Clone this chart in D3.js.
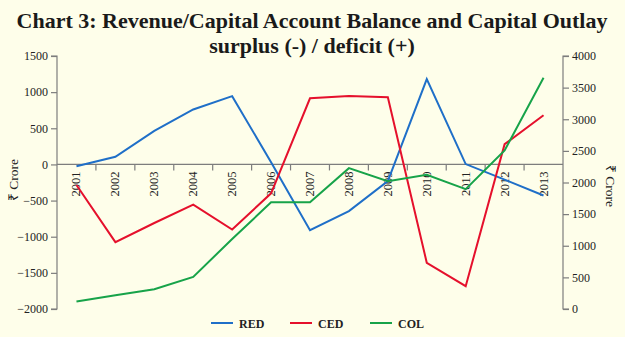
<!DOCTYPE html>
<html>
<head>
<meta charset="utf-8">
<script src="https://cdn.jsdelivr.net/npm/d3@7"></script>
<style>
  html, body { margin: 0; padding: 0; background: #fefeea; }
  svg { display: block; font-family: "Liberation Serif", "Times New Roman", serif; }
</style>
</head>
<body>
<svg id="chart" width="625" height="337"></svg>
<script>
// Fiscal years on the category axis
const years = ["2001","2002","2003","2004","2005","2006","2007","2008","2009","2010","2011","2012","2013"];

// Revenue account balance (left axis, ₹ crore)
const red = [-25, 105, 465, 760, 945, 30, -910, -645, -230, 1180, 5, -210, -430];
// Capital account balance (left axis, ₹ crore)
const ced = [-285, -1075, -810, -555, -900, -400, 915, 945, 930, -1360, -1685, 280, 680];
// Capital outlay (right axis, ₹ crore)
const col = [120, 217, 312, 508, 1106, 1687, 1687, 2227, 2020, 2122, 1895, 2508, 3655];

const leftTicks = [1500, 1000, 500, 0, -500, -1000, -1500, -2000];
const rightTicks = [4000, 3500, 3000, 2500, 2000, 1500, 1000, 500, 0];

const seriesNames = ["RED", "CED", "COL"];
const colors = { RED: "#1f6fc8", CED: "#e5102c", COL: "#17a349" };

const svg = d3.select("#chart");
const plotLeft = 57, plotRight = 563, plotTop = 56, plotBottom = 309;
const axisColor = "#7d7d7d";
const textColor = "#222";

const x = d3.scaleBand().domain(years).range([plotLeft, plotRight]).paddingInner(0).paddingOuter(0);
const yL = d3.scaleLinear().domain([-2000, 1500]).range([plotBottom, plotTop]);
const yR = d3.scaleLinear().domain([0, 4000]).range([plotBottom, plotTop]);

// Title
const title = svg.append("g").attr("font-weight", "bold").attr("fill", "#1a1a1a")
  .attr("text-anchor", "middle").attr("font-size", 22);
title.append("text").attr("x", 312).attr("y", 28)
  .text("Chart 3: Revenue/Capital Account Balance and Capital Outlay");
title.append("text").attr("x", 312).attr("y", 53)
  .text("surplus (-) / deficit (+)");

// Left axis
const gL = svg.append("g").attr("transform", `translate(${plotLeft},0)`)
  .call(d3.axisLeft(yL).tickValues(leftTicks).tickSize(6).tickPadding(3).tickFormat(d3.format("d")));
// Right axis
const gR = svg.append("g").attr("transform", `translate(${plotRight},0)`)
  .call(d3.axisRight(yR).tickValues(rightTicks).tickSize(6).tickPadding(3).tickFormat(d3.format("d")));

[gL, gR].forEach(g => {
  g.select(".domain").attr("stroke", axisColor).attr("stroke-width", 1.2);
  g.selectAll(".tick line").attr("stroke", axisColor).attr("stroke-width", 1.2);
  g.selectAll(".tick text").attr("fill", textColor).attr("font-size", 12)
    .attr("font-family", "Liberation Serif, serif");
});
gL.select(".domain").attr("d", `M-6,${plotTop}H0V${plotBottom}H-6`);
gR.select(".domain").attr("d", `M6,${plotTop}H0V${plotBottom}H6`);

// Category axis drawn along the zero line
const y0 = yL(0);
svg.append("line").attr("x1", plotLeft).attr("x2", plotRight).attr("y1", y0).attr("y2", y0)
  .attr("stroke", axisColor).attr("stroke-width", 1.2);
const boundaries = years.slice(1).map(d => x(d));
svg.append("g").selectAll("line").data(boundaries).join("line")
  .attr("x1", d => d).attr("x2", d => d).attr("y1", y0).attr("y2", y0 + 6)
  .attr("stroke", axisColor).attr("stroke-width", 1.2);
svg.append("g").selectAll("text").data(years).join("text")
  .attr("transform", d => `translate(${x(d) + x.bandwidth() / 2 + 4},${y0 + 7}) rotate(-90)`)
  .attr("text-anchor", "end").attr("font-size", 12.5).attr("fill", textColor)
  .text(d => d);

// Axis titles
svg.append("text").attr("transform", `translate(18,180) rotate(-90)`)
  .attr("text-anchor", "middle").attr("font-size", 13.5).attr("fill", textColor).text("₹ Crore");
svg.append("text").attr("transform", `translate(606,186) rotate(90)`)
  .attr("text-anchor", "middle").attr("font-size", 13.5).attr("fill", textColor).text("₹ Crore");

// Lines
const cx = d => x(d) + x.bandwidth() / 2;
const lineData = [
  { name: "RED", values: red, scale: yL },
  { name: "CED", values: ced, scale: yL },
  { name: "COL", values: col, scale: yR }
];
lineData.forEach(s => {
  const line = d3.line().x((v, i) => cx(years[i])).y(v => s.scale(v));
  svg.append("path").datum(s.values).attr("d", line)
    .attr("fill", "none").attr("stroke", colors[s.name]).attr("stroke-width", 2)
    .attr("stroke-linejoin", "miter");
});

// Legend
const legendX = [211, 290, 370];
const legend = svg.append("g").attr("transform", "translate(0,323)");
seriesNames.forEach((n, i) => {
  legend.append("line").attr("x1", legendX[i]).attr("x2", legendX[i] + 22).attr("y1", 0).attr("y2", 0)
    .attr("stroke", colors[n]).attr("stroke-width", 2);
  legend.append("text").attr("x", legendX[i] + 28).attr("y", 4.5)
    .attr("font-size", 12).attr("font-weight", "bold").attr("fill", textColor).text(n);
});
</script>
</body>
</html>
